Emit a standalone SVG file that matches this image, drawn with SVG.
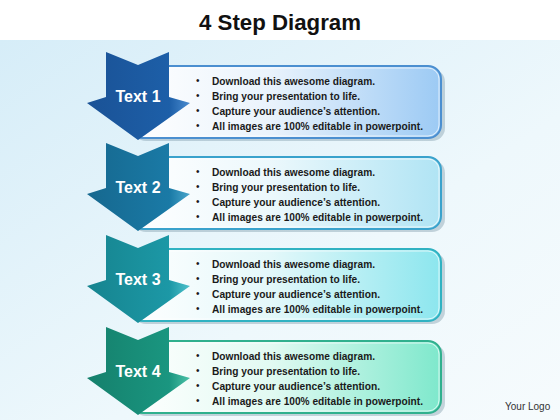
<svg xmlns="http://www.w3.org/2000/svg" width="560" height="420" viewBox="0 0 560 420">
<defs>
<linearGradient id="bg" x1="0" y1="0" x2="1" y2="1">
<stop offset="0" stop-color="#d6edf8"/>
<stop offset="0.6" stop-color="#eef8fc"/>
<stop offset="1" stop-color="#f6fbfd"/>
</linearGradient>
<linearGradient id="a1" x1="0" y1="0" x2="1" y2="0">
<stop offset="0" stop-color="#1a5296"/><stop offset="0.8" stop-color="#1d5fa8"/><stop offset="1" stop-color="#4a8cd0"/>
</linearGradient>
<linearGradient id="a2" x1="0" y1="0" x2="1" y2="0">
<stop offset="0" stop-color="#16688f"/><stop offset="0.8" stop-color="#1a7aa6"/><stop offset="1" stop-color="#4aa6cc"/>
</linearGradient>
<linearGradient id="a3" x1="0" y1="0" x2="1" y2="0">
<stop offset="0" stop-color="#16848f"/><stop offset="0.8" stop-color="#1c98a6"/><stop offset="1" stop-color="#4ec2cc"/>
</linearGradient>
<linearGradient id="a4" x1="0" y1="0" x2="1" y2="0">
<stop offset="0" stop-color="#15806c"/><stop offset="0.8" stop-color="#1a9680"/><stop offset="1" stop-color="#4cc2a8"/>
</linearGradient>
<linearGradient id="b1" x1="0" y1="0" x2="1" y2="0">
<stop offset="0" stop-color="#ffffff"/><stop offset="0.45" stop-color="#eaf3fc"/><stop offset="1" stop-color="#9ccaf4"/>
</linearGradient>
<linearGradient id="b2" x1="0" y1="0" x2="1" y2="0">
<stop offset="0" stop-color="#ffffff"/><stop offset="0.45" stop-color="#ecf8fc"/><stop offset="1" stop-color="#b0e4f4"/>
</linearGradient>
<linearGradient id="b3" x1="0" y1="0" x2="1" y2="0">
<stop offset="0" stop-color="#ffffff"/><stop offset="0.45" stop-color="#e4f8fa"/><stop offset="1" stop-color="#8ce6ee"/>
</linearGradient>
<linearGradient id="b4" x1="0" y1="0" x2="1" y2="0">
<stop offset="0" stop-color="#ffffff"/><stop offset="0.45" stop-color="#e2faf2"/><stop offset="1" stop-color="#7ee8cc"/>
</linearGradient>
<path id="arrow" d="M106,0 L138,13 L169,0 L169,45 L190,51 L138,88 L87,51 L106,45 Z"/>
</defs>
<style>
.title{font-family:"Liberation Sans",Arial,sans-serif;font-weight:bold;font-size:22px;fill:#111;}
.lbl{font-family:"Liberation Sans",Arial,sans-serif;font-weight:bold;font-size:16px;fill:#ffffff;}
.bt{font-family:"Liberation Sans",Arial,sans-serif;font-weight:bold;font-size:11px;fill:#1a1a1a;}
.bul{font-family:"Liberation Sans",Arial,sans-serif;font-size:10px;fill:#1a1a1a;}
.logo{font-family:"Liberation Sans",Arial,sans-serif;font-size:10px;fill:#333;}
.shadow{fill:#6a8a9a;opacity:0.35;}
.box{stroke-width:2;}
.hl{fill:none;stroke:#ffffff;stroke-width:1;opacity:0.7;}
</style>
<rect x="0" y="0" width="560" height="420" fill="#ffffff"/>
<rect x="0" y="40" width="560" height="380" fill="url(#bg)"/>
<text class="title" x="280" y="30" text-anchor="middle" textLength="162" lengthAdjust="spacingAndGlyphs">4 Step Diagram</text>

<g id="step1" transform="translate(0,52)">
<rect class="shadow" x="133" y="17" width="312" height="72" rx="13"/>
<rect class="box" x="130" y="14" width="311" height="72" rx="13" fill="url(#b1)" stroke="#4b8fd0"/>
<rect class="hl" x="132" y="16" width="307" height="68" rx="11"/>
<use href="#arrow" fill="url(#a1)"/>
<text class="lbl" x="138" y="50" text-anchor="middle">Text 1</text>
<g class="bul"><text x="196" y="32">•</text><text x="196" y="47">•</text><text x="196" y="62">•</text><text x="196" y="77">•</text></g>
<text class="bt" x="212" y="33" textLength="163" lengthAdjust="spacingAndGlyphs">Download this awesome diagram.</text>
<text class="bt" x="212" y="48" textLength="148" lengthAdjust="spacingAndGlyphs">Bring your presentation to life.</text>
<text class="bt" x="212" y="63" textLength="168" lengthAdjust="spacingAndGlyphs">Capture your audience’s attention.</text>
<text class="bt" x="212" y="78" textLength="211" lengthAdjust="spacingAndGlyphs">All images are 100% editable in powerpoint.</text>
</g>

<g id="step2" transform="translate(0,143)">
<rect class="shadow" x="133" y="17" width="312" height="72" rx="13"/>
<rect class="box" x="130" y="14" width="311" height="72" rx="13" fill="url(#b2)" stroke="#3aa2cc"/>
<rect class="hl" x="132" y="16" width="307" height="68" rx="11"/>
<use href="#arrow" fill="url(#a2)"/>
<text class="lbl" x="138" y="50" text-anchor="middle">Text 2</text>
<g class="bul"><text x="196" y="32">•</text><text x="196" y="47">•</text><text x="196" y="62">•</text><text x="196" y="77">•</text></g>
<text class="bt" x="212" y="33" textLength="163" lengthAdjust="spacingAndGlyphs">Download this awesome diagram.</text>
<text class="bt" x="212" y="48" textLength="148" lengthAdjust="spacingAndGlyphs">Bring your presentation to life.</text>
<text class="bt" x="212" y="63" textLength="168" lengthAdjust="spacingAndGlyphs">Capture your audience’s attention.</text>
<text class="bt" x="212" y="78" textLength="211" lengthAdjust="spacingAndGlyphs">All images are 100% editable in powerpoint.</text>
</g>

<g id="step3" transform="translate(0,235)">
<rect class="shadow" x="133" y="17" width="312" height="72" rx="13"/>
<rect class="box" x="130" y="14" width="311" height="72" rx="13" fill="url(#b3)" stroke="#30b2c2"/>
<rect class="hl" x="132" y="16" width="307" height="68" rx="11"/>
<use href="#arrow" fill="url(#a3)"/>
<text class="lbl" x="138" y="50" text-anchor="middle">Text 3</text>
<g class="bul"><text x="196" y="32">•</text><text x="196" y="47">•</text><text x="196" y="62">•</text><text x="196" y="77">•</text></g>
<text class="bt" x="212" y="33" textLength="163" lengthAdjust="spacingAndGlyphs">Download this awesome diagram.</text>
<text class="bt" x="212" y="48" textLength="148" lengthAdjust="spacingAndGlyphs">Bring your presentation to life.</text>
<text class="bt" x="212" y="63" textLength="168" lengthAdjust="spacingAndGlyphs">Capture your audience’s attention.</text>
<text class="bt" x="212" y="78" textLength="211" lengthAdjust="spacingAndGlyphs">All images are 100% editable in powerpoint.</text>
</g>

<g id="step4" transform="translate(0,327)">
<rect class="shadow" x="133" y="17" width="312" height="72" rx="13"/>
<rect class="box" x="130" y="14" width="311" height="72" rx="13" fill="url(#b4)" stroke="#30b08e"/>
<rect class="hl" x="132" y="16" width="307" height="68" rx="11"/>
<use href="#arrow" fill="url(#a4)"/>
<text class="lbl" x="138" y="50" text-anchor="middle">Text 4</text>
<g class="bul"><text x="196" y="32">•</text><text x="196" y="47">•</text><text x="196" y="62">•</text><text x="196" y="77">•</text></g>
<text class="bt" x="212" y="33" textLength="163" lengthAdjust="spacingAndGlyphs">Download this awesome diagram.</text>
<text class="bt" x="212" y="48" textLength="148" lengthAdjust="spacingAndGlyphs">Bring your presentation to life.</text>
<text class="bt" x="212" y="63" textLength="168" lengthAdjust="spacingAndGlyphs">Capture your audience’s attention.</text>
<text class="bt" x="212" y="78" textLength="211" lengthAdjust="spacingAndGlyphs">All images are 100% editable in powerpoint.</text>
</g>

<text class="logo" x="505" y="410">Your Logo</text>
</svg>
